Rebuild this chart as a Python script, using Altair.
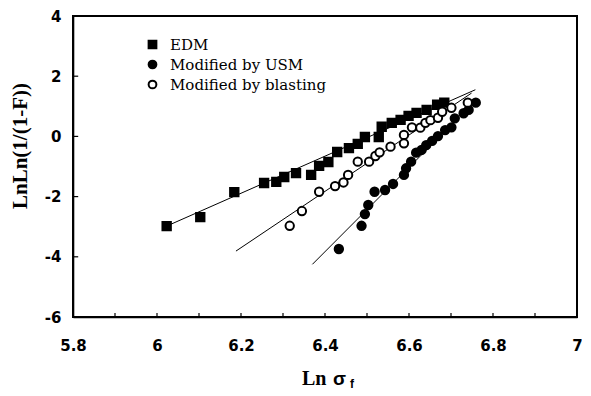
import altair as alt
import pandas as pd

# --- data ---
edm_x = [6.023, 6.103, 6.184, 6.255, 6.284, 6.303, 6.331, 6.367, 6.386, 6.408, 6.429, 6.457,
         6.478, 6.495, 6.528, 6.535, 6.559, 6.580, 6.599, 6.618, 6.642, 6.667, 6.684]
edm_y = [-2.98, -2.68, -1.85, -1.55, -1.51, -1.35, -1.22, -1.28, -0.98, -0.85, -0.52, -0.39,
         -0.25, -0.02, -0.02, 0.32, 0.45, 0.55, 0.68, 0.78, 0.88, 1.05, 1.12]

usm_x = [6.433, 6.487, 6.495, 6.503, 6.518, 6.543, 6.562, 6.588, 6.593, 6.605, 6.617, 6.630,
         6.641, 6.655, 6.669, 6.686, 6.701, 6.709, 6.730, 6.742, 6.759]
usm_y = [-3.74, -2.97, -2.58, -2.28, -1.84, -1.78, -1.58, -1.28, -1.06, -0.84, -0.54, -0.45,
         -0.29, -0.15, 0.01, 0.21, 0.30, 0.60, 0.77, 0.88, 1.12]

bl_x = [6.316, 6.345, 6.386, 6.424, 6.444, 6.455, 6.478, 6.505, 6.520, 6.530, 6.556, 6.588,
        6.588, 6.607, 6.627, 6.639, 6.651, 6.669, 6.679, 6.701, 6.740]
bl_y = [-2.97, -2.48, -1.84, -1.65, -1.53, -1.28, -0.84, -0.84, -0.65, -0.53, -0.34, -0.23,
        0.05, 0.30, 0.29, 0.45, 0.54, 0.62, 0.82, 0.95, 1.12]

series_names = ["EDM", "Modified by USM", "Modified by blasting"]

# fitted lines (start / end points)
fit_x0 = [6.023, 6.370, 6.188]
fit_y0 = [-2.98, -4.25, -3.81]
fit_x1 = [6.758, 6.720, 6.749]
fit_y1 = [1.55, 0.65, 1.44]

x_labels = [5.8, 6, 6.2, 6.4, 6.6, 6.8, 7]
x_minor = [5.9, 6.0, 6.1, 6.2, 6.3, 6.4, 6.5, 6.6, 6.7, 6.8, 6.9]
y_labels = [-6, -4, -2, 0, 2, 4]
x_range = [5.8, 7]
y_range = [-6, 4]

W, H = 504, 301
TICK_PX = 4

# --- tables ---
rows = []
for name, xs, ys in zip(series_names, [edm_x, usm_x, bl_x], [edm_y, usm_y, bl_y]):
    for a, b in zip(xs, ys):
        rows.append({"x": a, "y": b, "series": name})
pts = pd.DataFrame(rows)

lrows = []
for name, a0, b0, a1, b1 in zip(series_names, fit_x0, fit_y0, fit_x1, fit_y1):
    lrows.append({"x": a0, "y": b0, "series": name})
    lrows.append({"x": a1, "y": b1, "series": name})
lines = pd.DataFrame(lrows)

x0, x1 = x_range
y0, y1 = y_range
frame_df = pd.DataFrame({"x": [x0, x1, x1, x0, x0], "y": [y1, y1, y0, y0, y1],
                         "o": [0, 1, 2, 3, 4]})

ty = TICK_PX * (y1 - y0) / H
tx = TICK_PX * (x1 - x0) / W
trows = []
for i, v in enumerate(x_minor):
    trows.append({"x": v, "y": y0, "k": f"x{i}"})
    trows.append({"x": v, "y": y0 + ty, "k": f"x{i}"})
for i, v in enumerate([v for v in y_labels if v not in (y0, y1)]):
    trows.append({"x": x0, "y": v, "k": f"y{i}"})
    trows.append({"x": x0 + 1.3 * tx, "y": v, "k": f"y{i}"})
ticks_df = pd.DataFrame(trows)

xscale = alt.Scale(domain=x_range, nice=False, zero=False)
yscale = alt.Scale(domain=y_range, nice=False, zero=False)

lab_font = "DejaVu Sans"
ser_font = "Liberation Serif"
leg_font = "DejaVu Serif"

xaxis = alt.Axis(values=x_labels, labelExpr="'' + datum.value", ticks=False, tickSize=0,
                 domain=True, domainColor="black", domainWidth=1.6, grid=False,
                 labelFont=lab_font, labelFontWeight="bold",
                 labelFontSize=15, labelPadding=21, labelColor="black", title=None,
                 labelFlush=False)
yaxis = alt.Axis(values=y_labels, labelExpr="'' + datum.value", ticks=False, tickSize=0,
                 domain=True, domainColor="black", domainWidth=1.6, grid=False,
                 labelFont=lab_font, labelFontWeight="bold",
                 labelFontSize=15, labelPadding=12, labelColor="black", title=None,
                 labelFlush=False)

fit = alt.Chart(lines).mark_line(color="black", strokeWidth=1).encode(
    x=alt.X("x:Q", scale=xscale, axis=xaxis),
    y=alt.Y("y:Q", scale=yscale, axis=yaxis),
    detail="series:N",
)

frame = alt.Chart(frame_df).mark_line(color="#000000", strokeWidth=2, strokeCap="square",
                                      clip=False).encode(
    x=alt.X("x:Q", scale=xscale, axis=xaxis), y=alt.Y("y:Q", scale=yscale, axis=yaxis),
    order="o:Q")

ticks = alt.Chart(ticks_df).mark_line(color="#000000", strokeWidth=1.2).encode(
    x=alt.X("x:Q", scale=xscale, axis=xaxis), y=alt.Y("y:Q", scale=yscale, axis=yaxis),
    detail="k:N")

leg = alt.Legend(title=None, orient="none", legendX=72, legendY=21,
                 labelFont=leg_font, labelFontSize=15, labelColor="black",
                 symbolSize=60, symbolStrokeWidth=2, rowPadding=3, labelOffset=10)

points = alt.Chart(pts).mark_point(size=70, opacity=1, fillOpacity=1, stroke="black",
                                   strokeWidth=2).encode(
    x=alt.X("x:Q", scale=xscale, axis=xaxis),
    y=alt.Y("y:Q", scale=yscale, axis=yaxis),
    shape=alt.Shape("series:N", scale=alt.Scale(domain=series_names,
                                                range=["square", "circle", "circle"]),
                    legend=leg),
    fill=alt.Fill("series:N", scale=alt.Scale(domain=series_names,
                                              range=["black", "black", "white"]),
                  legend=leg),
)

t_ln = alt.Chart(pd.DataFrame({"t": ["Ln"]})).mark_text(
    font=ser_font, fontWeight="bold", fontSize=20, align="left", baseline="alphabetic",
    color="black").encode(text="t:N", x=alt.value(229), y=alt.value(369))
t_sig = alt.Chart(pd.DataFrame({"t": ["σ"]})).mark_text(
    font="Liberation Sans", fontWeight="bold", fontSize=19, align="left",
    baseline="alphabetic", color="black").encode(text="t:N", x=alt.value(260), y=alt.value(369))
t_f = alt.Chart(pd.DataFrame({"t": ["f"]})).mark_text(
    font="Liberation Sans", fontWeight="bold", fontSize=12, align="left",
    baseline="alphabetic", color="black").encode(text="t:N", x=alt.value(277), y=alt.value(372))
t_y = alt.Chart(pd.DataFrame({"t": ["LnLn(1/(1-F))"]})).mark_text(
    font=ser_font, fontWeight="bold", fontSize=21, align="center", baseline="middle",
    angle=270, color="black").encode(text="t:N", x=alt.value(-52), y=alt.value(130))

chart = alt.layer(fit, points, frame, ticks, t_ln, t_sig, t_f, t_y).properties(
    width=W, height=H,
    background="white",
    autosize=alt.AutoSizeParams(type="none"),
    padding={"left": 65, "top": 8, "right": 5, "bottom": 78},
).configure_view(stroke="black", strokeWidth=1.6)

chart.save("out.html", embed_options={"renderer": "svg", "actions": False})
